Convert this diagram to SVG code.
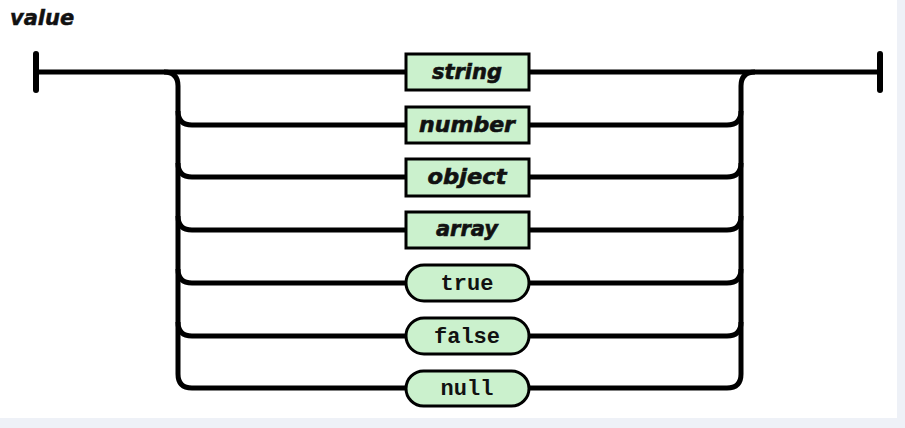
<svg xmlns="http://www.w3.org/2000/svg" width="905" height="428" viewBox="0 0 905 428">
<style>
.wire{fill:none;stroke:#000;stroke-width:5;stroke-linecap:butt}
.bar{fill:none;stroke:#000;stroke-width:6;stroke-linecap:round}
.box{fill:#cbf1cd;stroke:#000;stroke-width:3}
.lbl{font-family:"DejaVu Sans",sans-serif;font-weight:bold;font-style:italic;font-size:21px;fill:#111;stroke:#111;stroke-width:0.6;text-anchor:middle}
.lit{font-family:"Liberation Mono","Courier New",monospace;font-weight:bold;font-size:22px;fill:#111;text-anchor:middle}
</style>
<rect width="905" height="428" fill="#eef1f7"/>
<rect width="897" height="418" fill="#ffffff"/>
<text x="10" y="25" style="font-family:'DejaVu Sans',sans-serif;font-weight:bold;font-style:italic;font-size:21px;fill:#111;stroke:#111;stroke-width:0.5">value</text>
<g id="connectors">
<path class="bar" d="M36 54 V90"/>
<path class="bar" d="M880 54 V90"/>
<path class="wire" d="M36 72 H405 M530 72 H880"/>
<path class="wire" d="M164 72 Q178 72 178 86 V374 Q178 388 192 388 H405"/>
<path class="wire" d="M178 111 Q178 125 192 125 H405"/>
<path class="wire" d="M178 163 Q178 177 192 177 H405"/>
<path class="wire" d="M178 216 Q178 230 192 230 H405"/>
<path class="wire" d="M178 269 Q178 283 192 283 H405"/>
<path class="wire" d="M178 322 Q178 336 192 336 H405"/>
<path class="wire" d="M530 388 H727 Q741 388 741 374 V86 Q741 72 755 72"/>
<path class="wire" d="M530 125 H727 Q741 125 741 111"/>
<path class="wire" d="M530 177 H727 Q741 177 741 163"/>
<path class="wire" d="M530 230 H727 Q741 230 741 216"/>
<path class="wire" d="M530 283 H727 Q741 283 741 269"/>
<path class="wire" d="M530 336 H727 Q741 336 741 322"/>
</g>
<g id="string"><rect class="box" x="406" y="54" width="123" height="36"/><text class="lbl" x="467" y="79">string</text></g>
<g id="number"><rect class="box" x="406" y="107" width="123" height="36"/><text class="lbl" x="467" y="132" textLength="96" lengthAdjust="spacingAndGlyphs">number</text></g>
<g id="object"><rect class="box" x="406" y="159" width="123" height="37"/><text class="lbl" x="467" y="184" textLength="79" lengthAdjust="spacingAndGlyphs">object</text></g>
<g id="array"><rect class="box" x="406" y="212" width="123" height="36"/><text class="lbl" x="467" y="236">array</text></g>
<g id="true"><rect class="box" x="406" y="265" width="123" height="36" rx="18"/><text class="lit" x="467" y="290">true</text></g>
<g id="false"><rect class="box" x="406" y="318" width="123" height="36" rx="18"/><text class="lit" x="467" y="343">false</text></g>
<g id="null"><rect class="box" x="406" y="371" width="123" height="35" rx="17.5"/><text class="lit" x="467" y="395">null</text></g>
</svg>
